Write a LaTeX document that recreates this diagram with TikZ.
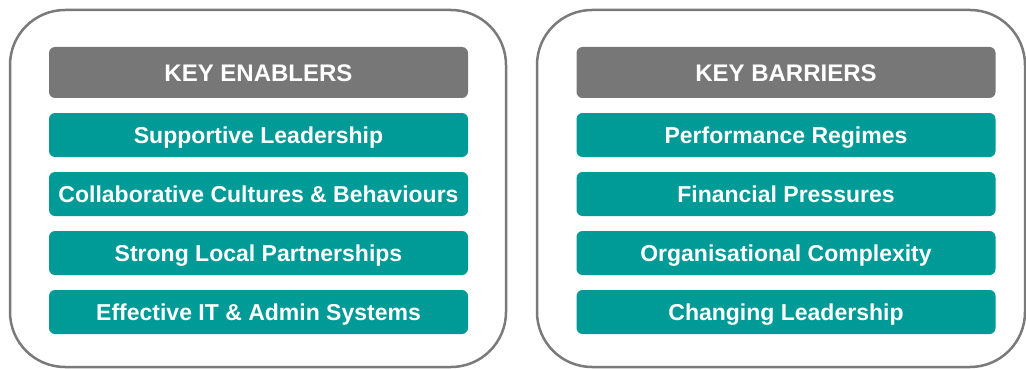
\documentclass[tikz,border=0pt]{standalone}
\usepackage{fontspec}
\setmainfont{Liberation Sans}
\definecolor{hdrgray}{HTML}{777777}
\definecolor{teal2}{HTML}{009A97}
\definecolor{bordergray}{HTML}{7A7A7A}
\tikzset{
  panel/.style={draw=bordergray, line width=2.5pt, rounded corners=55pt},
  header/.style={fill=hdrgray, rounded corners=6pt, minimum width=419pt, minimum height=51pt, inner sep=0pt, text height=17.2pt, text depth=0pt, text=white, font=\fontsize{24}{27}\selectfont\bfseries},
  item/.style={fill=teal2, rounded corners=6pt, minimum width=419pt, minimum height=44pt, inner sep=0pt, text height=16.5pt, text depth=0pt, text=white, font=\fontsize{23}{26}\selectfont\bfseries},
}
\begin{document}
\begin{tikzpicture}[x=1pt,y=-1pt]
\useasboundingbox (0,0) rectangle (1026,369);
\draw[panel] (10,10) rectangle (506,367);
\draw[panel] (537,10) rectangle (1025,367);
\node[header] (hl) at (258.5,72.5) {KEY ENABLERS};
\node[item] (l1) at (258.5,135) {Supportive Leadership};
\node[item] (l2) at (258.5,194) {Collaborative Cultures \& Behaviours};
\node[item] (l3) at (258.5,253) {Strong Local Partnerships};
\node[item] (l4) at (258.5,312) {Effective IT \& Admin Systems};
\node[header] (hr) at (786,72.5) {KEY BARRIERS};
\node[item] (r1) at (786,135) {Performance Regimes};
\node[item] (r2) at (786,194) {Financial Pressures};
\node[item] (r3) at (786,253) {Organisational Complexity};
\node[item] (r4) at (786,312) {Changing Leadership};
\end{tikzpicture}
\end{document}
